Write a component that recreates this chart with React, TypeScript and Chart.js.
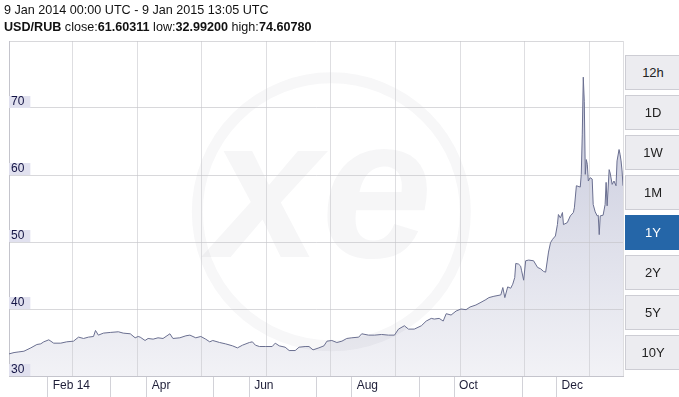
import React, { useEffect, useRef } from 'react';
import { Chart, registerables } from 'chart.js';

Chart.register(...registerables);

// Days since 9 Jan 2014 00:00 UTC
const dayOffsets = [
  0, 3.0, 5.9, 8.9, 13.0, 16.6, 18.9, 20.7, 23.7, 26.6, 30.8, 34.3, 38.4, 41.4, 44.4, 47.3, 50.3, 51.5, 53.2, 56.2,
  60.3, 65.1, 68.0, 72.2, 75.1, 76.9, 78.1, 81.0, 82.8, 85.8, 88.7, 91.7, 95.8, 97.6, 101.7, 105.3, 107.7, 111.2, 114.2, 117.1,
  119.5, 121.3, 125.4, 128.9, 133.1, 136.0, 139.0, 143.1, 144.9, 146.7, 149.1, 152.6, 156.7, 158.5, 160.9, 164.4, 166.8, 170.4, 172.7, 176.3,
  178.6, 181.0, 184.5, 187.5, 189.3, 192.2, 195.2, 198.2, 201.1, 204.1, 208.2, 210.0, 214.1, 217.7, 221.8, 225.9, 229.5, 231.9, 235.4, 237.8,
  241.3, 245.5, 248.4, 251.4, 253.2, 256.1, 258.5, 260.3, 263.2, 266.2, 269.1, 272.1, 274.5, 278.0, 281.0, 283.9, 285.7, 288.7, 292.8, 294.0,
  295.2, 296.9, 298.7, 299.9, 301.1, 301.7, 303.4, 304.6, 305.2, 306.4, 307.6, 309.4, 312.3, 314.7, 316.5, 318.3, 319.5, 321.2, 322.4, 323.6,
  325.3, 326.5, 327.1, 328.3, 329.5, 330.1, 332.4, 334.2, 336.0, 336.6, 337.8, 340.1, 340.7, 341.3, 341.9, 342.5, 343.1, 343.7, 344.3, 344.9,
  346.0, 347.2, 347.8, 349.0, 350.2, 350.8, 351.4, 352.0, 353.7, 354.9, 355.5, 356.1, 357.3, 357.9, 359.1, 360.2, 361.4, 362.0, 363.2, 363.8,
  364.4, 365.0, 365.55,
];

const rates = [
  33.3, 33.5, 33.6, 33.7, 34.2, 34.7, 34.8, 35.1, 35.4, 34.9, 34.9, 35.1, 35.2, 35.8, 35.6, 35.8, 35.9, 36.8, 36.1, 36.4,
  36.5, 36.6, 36.4, 36.3, 35.7, 35.9, 35.8, 35.3, 35.6, 35.5, 35.7, 35.6, 36.3, 35.6, 35.7, 36.0, 36.1, 35.7, 35.9, 35.5,
  35.1, 35.3, 35.0, 34.8, 34.5, 34.2, 34.6, 35.0, 35.1, 34.6, 34.4, 34.4, 34.4, 34.9, 34.5, 34.3, 33.8, 33.8, 34.3, 34.4,
  34.4, 33.9, 34.2, 34.5, 35.2, 35.3, 35.0, 35.2, 35.6, 35.7, 35.8, 36.3, 36.1, 36.1, 36.2, 36.1, 36.1, 37.0, 37.5, 37.0,
  37.0, 37.5, 38.2, 38.6, 38.5, 38.6, 38.2, 39.3, 39.1, 39.7, 40.0, 39.9, 40.3, 40.6, 41.0, 41.4, 41.7, 41.9, 42.1, 43.2,
  41.7, 43.3, 43.1, 43.7, 44.7, 46.8, 46.7, 46.4, 45.7, 44.3, 47.2, 47.3, 47.2, 46.2, 46.0, 45.6, 45.5, 48.5, 49.9, 50.4,
  50.9, 52.6, 54.1, 53.6, 54.4, 52.6, 52.9, 53.9, 54.4, 55.1, 58.4, 58.2, 60.1, 66.1, 74.6, 71.0, 60.1, 62.3, 61.6, 59.1,
  59.6, 59.4, 55.6, 54.5, 53.9, 54.0, 51.1, 53.9, 54.0, 55.6, 58.9, 55.4, 60.8, 60.3, 58.6, 59.1, 58.4, 62.1, 63.8, 63.1,
  62.1, 60.6, 58.4,
];

const xMaxDay = 365.55;
const monthTickDays = [23, 82, 143, 204, 265, 326];
const monthTickLabels = ['Feb 14', 'Apr', 'Jun', 'Aug', 'Oct', 'Dec'];
const minorTickDays = [60.3, 121.9, 182.8, 244.3, 305.8];
const gridDays = [37.86, 76.3, 114.75, 153.2, 191.65, 230.1, 268.57, 307.03, 345.48, 365.55];
const yTickValues = [30, 40, 50, 60, 70];
const yMin = 30;
const yMax = 80;

const rangeButtons = ['12h', '1D', '1W', '1M', '1Y', '2Y', '5Y', '10Y'];
const activeRange = '1Y';
const headerRange = '9 Jan 2014 00:00 UTC - 9 Jan 2015 13:05 UTC';
const pairName = 'USD/RUB';
const closeValue = '61.60311';
const lowValue = '32.99200';
const highValue = '74.60780';

const FONT = '"Liberation Sans", Arial, sans-serif';

const monthLabelFor = (v: number) => {
  for (let i = 0; i < monthTickDays.length; i++) {
    if (Math.abs(monthTickDays[i] - v) < 0.01) return monthTickLabels[i];
  }
  return '';
};

const watermarkPlugin = {
  id: 'xeWatermark',
  beforeDraw(chart: any) {
    const { ctx, chartArea } = chart;
    if (!chartArea) return;
    const cx = chartArea.left + (chartArea.right - chartArea.left) * 0.525;
    const cy = chartArea.top + (chartArea.bottom - chartArea.top) * 0.51;
    ctx.save();
    ctx.strokeStyle = 'rgba(20,20,60,0.035)';
    ctx.lineWidth = 11;
    ctx.beginPath();
    ctx.arc(cx, cy, 134, 0, Math.PI * 2);
    ctx.stroke();
    ctx.fillStyle = 'rgba(20,20,60,0.04)';
    ctx.font = 'italic bold 200px ' + FONT;
    ctx.textAlign = 'center';
    ctx.textBaseline = 'middle';
    ctx.fillText('xe', cx - 10, cy - 10);
    ctx.restore();
  },
};

export default function App() {
  const canvasRef = useRef<HTMLCanvasElement | null>(null);

  useEffect(() => {
    document.body.style.margin = '0';
    document.body.style.overflow = 'hidden';
    const canvas = canvasRef.current;
    if (!canvas) return;
    const points = dayOffsets.map((d, i) => ({ x: d, y: rates[i] }));
    const allXTicks = [...monthTickDays, ...minorTickDays].sort((a, b) => a - b);

    const chart = new Chart(canvas, {
      type: 'line',
      data: {
        datasets: [
          {
            label: pairName,
            data: points,
            borderColor: '#6a6f90',
            borderWidth: 1,
            pointRadius: 0,
            tension: 0,
            fill: 'start',
            backgroundColor: (c: any) => {
              const { chartArea, ctx } = c.chart;
              if (!chartArea) return '#e2e3ec';
              const g = ctx.createLinearGradient(0, chartArea.top, 0, chartArea.bottom);
              g.addColorStop(0, 'rgb(192,195,216)');
              g.addColorStop(1, 'rgb(242,242,246)');
              return g;
            },
          },
        ],
      },
      options: {
        animation: false,
        responsive: false,
        devicePixelRatio: 1,
        layout: { padding: { left: 5, top: 41, right: 56, bottom: 0 } },
        plugins: {
          legend: { display: false },
          tooltip: { enabled: false },
          filler: { drawTime: 'beforeDraw' },
        },
        scales: {
          x: {
            type: 'linear',
            position: 'bottom',
            min: 0,
            max: xMaxDay,
            afterBuildTicks: (axis: any) => {
              axis.ticks = allXTicks.map((v) => ({ value: v }));
            },
            afterFit: (axis: any) => {
              axis.height = 21;
            },
            ticks: {
              autoSkip: false,
              maxRotation: 0,
              align: 'start',
              labelOffset: 5,
              padding: -19,
              color: '#1e1e38',
              font: { family: FONT, size: 12 },
              callback: (v: any) => monthLabelFor(Number(v)),
            },
            grid: { drawOnChartArea: false, drawTicks: true, tickLength: 21, tickColor: '#d2d2d8' },
            border: { color: '#c4c4cc' },
          },
          xg: {
            type: 'linear',
            position: 'top',
            min: 0,
            max: xMaxDay,
            afterBuildTicks: (axis: any) => {
              axis.ticks = gridDays.map((v) => ({ value: v }));
            },
            ticks: { display: false },
            grid: { color: 'rgba(200,200,205,0.6)', drawTicks: false },
            border: { display: false },
          },
          y: {
            type: 'linear',
            position: 'left',
            min: yMin,
            max: yMax,
            afterBuildTicks: (axis: any) => {
              axis.ticks = [...yTickValues, yMax].map((v) => ({ value: v }));
            },
            ticks: {
              mirror: true,
              padding: 2,
              labelOffset: -6,
              color: '#141445',
              font: { family: FONT, size: 12, lineHeight: 1 },
              showLabelBackdrop: true,
              backdropColor: (c: any) => (c.tick && c.tick.value === yMax ? 'rgba(0,0,0,0)' : '#e1e1ef'),
              backdropPadding: { left: 2, right: 6, top: 0, bottom: 0 },
              callback: (v: any) => (Number(v) === yMax ? '' : String(v)),
            },
            grid: { color: 'rgba(195,195,200,0.65)', drawTicks: false },
            border: { color: '#c4c4cc' },
          },
        },
      } as any,
      plugins: [watermarkPlugin],
    });
    return () => chart.destroy();
  }, []);

  return (
    <div style={{ position: 'fixed', left: 0, top: 0, width: 679, height: 397, background: '#fff', overflow: 'hidden' }}>
      <canvas ref={canvasRef} width={679} height={397} style={{ position: 'absolute', left: 0, top: 0, width: 679, height: 397 }} />
      <div
        style={{
          position: 'absolute',
          left: 4,
          top: 2,
          fontFamily: FONT,
          fontSize: 12.6,
          lineHeight: '16.5px',
          color: '#111',
          whiteSpace: 'nowrap',
        }}
      >
        <div>{headerRange}</div>
        <div>
          <b>{pairName}</b> close:<b>{closeValue}</b> low:<b>{lowValue}</b> high:<b>{highValue}</b>
        </div>
      </div>
      {rangeButtons.map((r, i) => {
        const active = r === activeRange;
        return (
          <div
            key={r}
            style={{
              position: 'absolute',
              left: 625,
              top: 55 + i * 40,
              width: 56,
              height: 35,
              boxSizing: 'border-box',
              border: '1px solid ' + (active ? '#2566a8' : '#cdcdd4'),
              background: active ? '#2566a8' : '#ececf0',
              color: active ? '#fff' : '#222',
              fontFamily: FONT,
              fontSize: 13,
              display: 'flex',
              alignItems: 'center',
              justifyContent: 'center',
            }}
          >
            {r}
          </div>
        );
      })}
    </div>
  );
}
